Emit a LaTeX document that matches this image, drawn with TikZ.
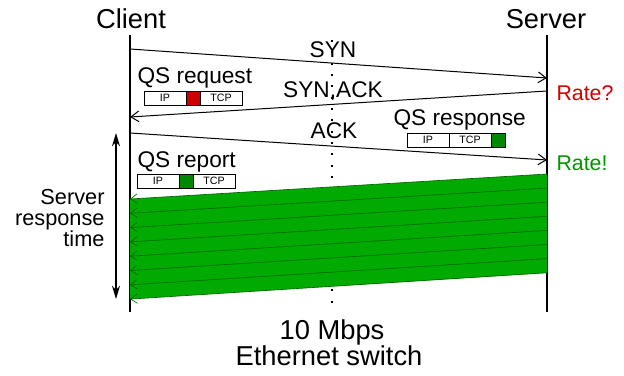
\documentclass[tikz,border=0pt]{standalone}
\usepackage{fontspec}
\setmainfont{Liberation Sans}
\usetikzlibrary{positioning,arrows.meta}
\definecolor{qsred}{RGB}{204,0,0}
\definecolor{qsgreen}{RGB}{0,136,0}
\definecolor{ratered}{RGB}{210,0,0}
\definecolor{rategreen}{RGB}{0,150,0}
\definecolor{bandgreen}{RGB}{0,170,0}
\definecolor{bandline}{RGB}{0,105,0}
\tikzset{every picture/.style={line width=0.75pt}}

\begin{document}
\begin{tikzpicture}[x=0.75pt,y=0.75pt,yscale=-1,xscale=1,
  big/.style={font=\fontsize{20.5}{22}\selectfont, inner sep=0pt},
  msg/.style={font=\fontsize{17}{18}\selectfont, inner sep=0pt},
  lifeline/.style={line width=1.6pt},
  msgarrow/.style={-{Straight Barb[length=6pt,width=8pt]}},
  datarrow/.style={bandline, line width=0.5pt, -{Straight Barb[length=5pt,width=7pt]}},
  cell/.style={draw, line width=0.75pt, inner sep=0pt, outer sep=0pt, minimum width=31.5pt, minimum height=10.5pt, font=\fontsize{8}{8}\selectfont},
  flag/.style={cell, minimum width=10.5pt}]
\useasboundingbox (0,0) rectangle (624,375);

% end points
\coordinate (ctop) at (130,35);
\coordinate (cbot) at (130,312);
\coordinate (stop) at (547,35);
\coordinate (sbot) at (547,312);
\coordinate (wtop) at (332,40);
\coordinate (wbot) at (332,312);

% lifelines
\draw [lifeline] (ctop) -- (cbot);
\draw [lifeline] (stop) -- (sbot);
\draw [dash pattern=on 1.5pt off 7pt, line width=1pt] (wtop) -- (wbot);

% Text Node
\node [big, anchor=base] (client) at (131,28) {Client};
\node [big, anchor=base] (server) at (546,28) {Server};

% handshake
\coordinate (syn1) at (130,49);
\coordinate (syn2) at (547,78);
\draw [msgarrow] (syn1) -- (syn2);
\coordinate (sak1) at (547,91);
\coordinate (sak2) at (130,117);
\draw [msgarrow] (sak1) -- (sak2);
\coordinate (ack1) at (130,133);
\coordinate (ack2) at (547,160);
\draw [msgarrow] (ack1) -- (ack2);

\node [msg, anchor=base] (syn) at (333,57) {SYN};
\node [msg, anchor=base] (synack) at (333,97) {SYN,ACK};
\node [msg, anchor=base] (ack) at (334,138) {ACK};

\node [msg, font=\fontsize{16}{17}\selectfont, anchor=base west, text=ratered] (rateq) at (556,100) {Rate?};
\node [msg, font=\fontsize{16}{17}\selectfont, anchor=base west, text=rategreen] (rateok) at (556,170) {Rate!};

% QS request
\node [msg, anchor=base west] (req) at (137,83) {QS request};
\node [cell, anchor=north west] (reqip) at (144,91) {IP};
\node [flag, fill=qsred, right=0pt of reqip] (reqqs) {};
\node [cell, right=0pt of reqqs] (reqtcp) {TCP};

% QS response
\node [msg, anchor=base west] (resp) at (393,125) {QS response};
\node [cell, anchor=north west] (respip) at (407,133) {IP};
\node [cell, right=0pt of respip] (resptcp) {TCP};
\node [flag, fill=qsgreen, right=0pt of resptcp] (respqs) {};

% QS report
\node [msg, anchor=base west] (rep) at (137,167) {QS report};
\node [cell, anchor=north west] (repip) at (137,174) {IP};
\node [flag, fill=qsgreen, right=0pt of repip] (repqs) {};
\node [cell, right=0pt of repqs] (reptcp) {TCP};

% data burst
\fill [bandgreen] (130,199) -- (547,174) -- (547,273) -- (130,299) -- cycle;
\foreach \k in {0,...,7}{
  \coordinate (dr\k) at (547,{174+14.1*\k});
  \coordinate (dl\k) at (130,{199+14.3*\k});
  \draw [datarrow] (dr\k) -- (dl\k);
}

% server response time
\coordinate (rt1) at (116,133);
\coordinate (rt2) at (116,299);
\draw [line width=1pt, {Stealth[length=10pt,width=6pt]}-{Stealth[length=10pt,width=6pt]}] (rt1) -- (rt2);
\node [font=\fontsize{16.3}{15.5}\selectfont, inner sep=0pt, align=right, anchor=east] (srt) at (105,218) {Server\\response\\time};

% switch
\node [big, anchor=base] (sw1) at (332,339) {10 Mbps};
\node [big, anchor=base] (sw2) at (329,365) {Ethernet switch};

\end{tikzpicture}
\end{document}
